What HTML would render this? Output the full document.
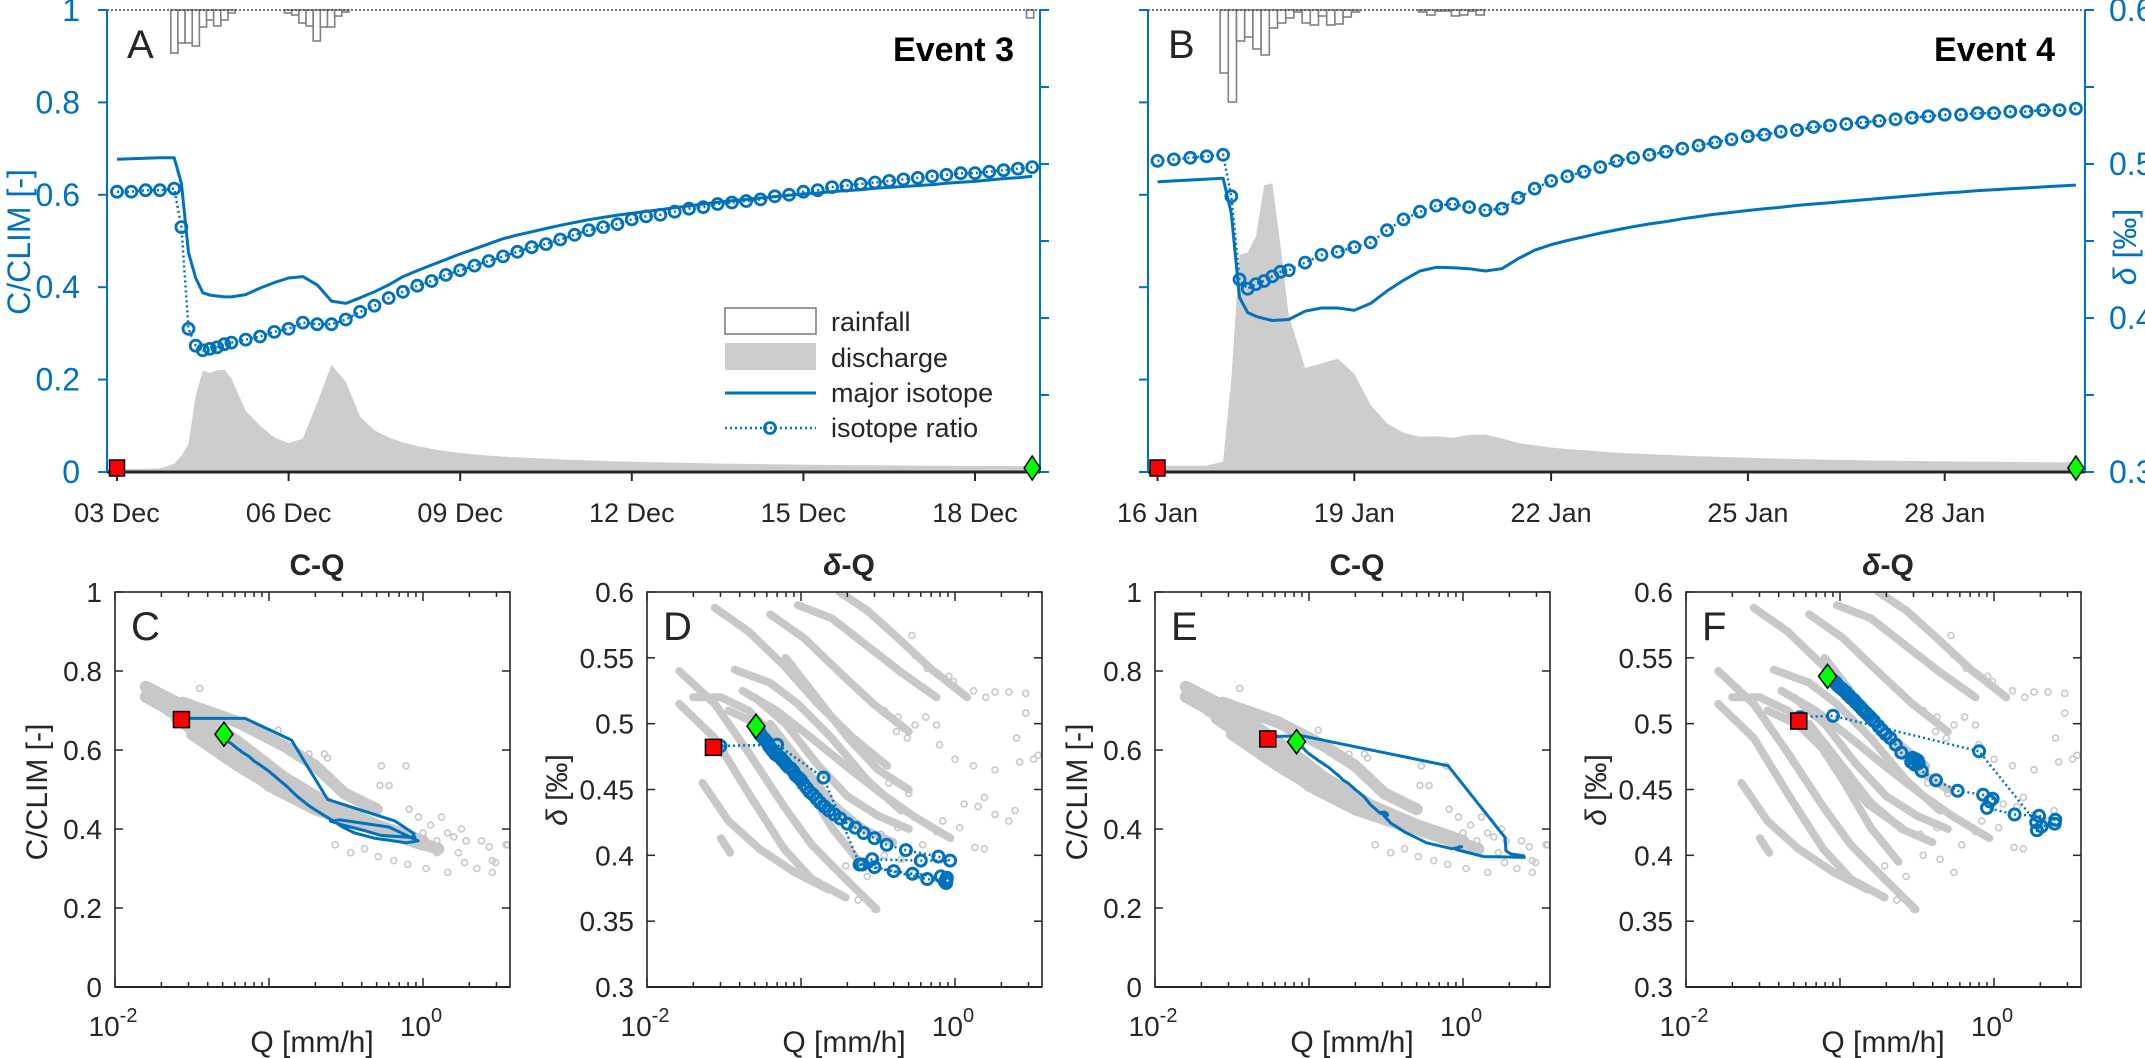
<!DOCTYPE html>
<html><head><meta charset="utf-8"><style>
html,body{margin:0;padding:0;background:#fff;}
svg{display:block;font-family:"Liberation Sans",Arial,sans-serif;}
</style></head><body>
<svg id="fig" xmlns="http://www.w3.org/2000/svg" width="2145" height="1058" viewBox="0 0 2145 1058">
<rect x="0" y="0" width="2145" height="1058" fill="#fff"/>
<g id="layer"></g>
</svg>
<script>
// ===== Event 3 (panel A, C, D) =====
const timesA = [0,0.25,0.5,0.75,1,1.125,1.25,1.375,1.5,1.625,1.75,1.875,2,2.25,2.5,2.75,3,3.25,3.5,3.75,4,4.25,4.5,4.75,5,5.25,5.5,5.75,6,6.25,6.5,6.75,7,7.25,7.5,7.75,8,8.25,8.5,8.75,9,9.25,9.5,9.75,10,10.25,10.5,10.75,11,11.25,11.5,11.75,12,12.25,12.5,12.75,13,13.25,13.5,13.75,14,14.25,14.5,14.75,15,15.25,15.5,15.75,16];
const dischargeA = [0.027,0.027,0.028,0.03,0.07,0.14,0.24,0.66,0.876,0.86,0.88,0.885,0.81,0.53,0.40,0.30,0.25,0.29,0.60,0.93,0.78,0.48,0.36,0.30,0.255,0.225,0.20,0.18,0.165,0.152,0.142,0.133,0.126,0.12,0.114,0.109,0.104,0.1,0.096,0.092,0.089,0.086,0.083,0.08,0.078,0.076,0.074,0.072,0.07,0.068,0.066,0.065,0.063,0.062,0.061,0.06,0.059,0.058,0.057,0.056,0.055,0.054,0.054,0.053,0.053,0.052,0.052,0.051,0.051];
const majorA = [0.677,0.678,0.679,0.68,0.68,0.625,0.475,0.42,0.388,0.383,0.381,0.379,0.379,0.384,0.398,0.41,0.42,0.423,0.405,0.37,0.365,0.377,0.39,0.405,0.423,0.436,0.448,0.46,0.472,0.483,0.494,0.505,0.513,0.52,0.527,0.534,0.54,0.546,0.551,0.556,0.56,0.564,0.568,0.572,0.576,0.58,0.584,0.587,0.59,0.593,0.596,0.599,0.602,0.604,0.607,0.609,0.611,0.614,0.616,0.618,0.62,0.622,0.625,0.627,0.629,0.632,0.635,0.637,0.64];
const ratioA = [0.482,0.482,0.483,0.483,0.484,0.459,0.393,0.382,0.379,0.38,0.381,0.383,0.384,0.386,0.388,0.391,0.393,0.397,0.396,0.396,0.399,0.404,0.408,0.413,0.417,0.421,0.424,0.428,0.431,0.434,0.437,0.44,0.443,0.446,0.448,0.451,0.454,0.457,0.459,0.461,0.464,0.466,0.467,0.469,0.471,0.472,0.474,0.475,0.476,0.477,0.479,0.48,0.482,0.483,0.485,0.486,0.487,0.488,0.489,0.49,0.491,0.492,0.493,0.494,0.494,0.495,0.496,0.497,0.498];
const rainTimesA = [0.94,1.065,1.19,1.315,1.44,1.565,1.69,1.815,1.94,2.93,3.055,3.18,3.305,3.43,3.555,3.68,3.805,3.93,15.9];
const rainA = [4.3,3.3,3.3,3.6,1.7,1.0,1.6,1.0,0.3,0.3,0.5,1.3,1.6,3.1,1.7,1.7,0.6,0.2,0.8];
const tickDaysA = [0,3,6,9,12,15];
const tickLabelsA = ['03 Dec','06 Dec','09 Dec','12 Dec','15 Dec','18 Dec'];

// ===== Event 4 (panel B, E, F) =====
const timesB = [0,0.25,0.5,0.75,1,1.125,1.25,1.375,1.5,1.625,1.75,1.875,2,2.25,2.5,2.75,3,3.25,3.5,3.75,4,4.25,4.5,4.75,5,5.25,5.5,5.75,6,6.25,6.5,6.75,7,7.25,7.5,7.75,8,8.25,8.5,8.75,9,9.25,9.5,9.75,10,10.25,10.5,10.75,11,11.25,11.5,11.75,12,12.25,12.5,12.75,13,13.25,13.5,13.75,14];
const dischargeB = [0.054,0.054,0.054,0.055,0.09,0.8,1.88,1.9,2.04,2.48,2.5,1.96,1.36,0.9,0.94,0.98,0.85,0.58,0.42,0.34,0.305,0.31,0.296,0.32,0.324,0.29,0.25,0.23,0.212,0.198,0.188,0.178,0.166,0.16,0.154,0.148,0.142,0.137,0.132,0.127,0.123,0.119,0.115,0.112,0.109,0.106,0.104,0.101,0.099,0.097,0.095,0.094,0.092,0.091,0.089,0.088,0.087,0.086,0.085,0.084,0.083];
const majorB = [0.628,0.63,0.632,0.634,0.636,0.56,0.378,0.345,0.337,0.332,0.328,0.329,0.33,0.348,0.355,0.355,0.35,0.365,0.392,0.415,0.435,0.443,0.442,0.44,0.435,0.44,0.462,0.48,0.492,0.501,0.509,0.517,0.524,0.531,0.537,0.542,0.548,0.553,0.558,0.562,0.566,0.57,0.573,0.577,0.58,0.583,0.586,0.589,0.592,0.595,0.598,0.601,0.604,0.606,0.609,0.611,0.613,0.615,0.617,0.619,0.621];
const ratioB = [0.502,0.503,0.504,0.505,0.506,0.479,0.425,0.419,0.422,0.424,0.427,0.43,0.431,0.436,0.441,0.443,0.446,0.449,0.457,0.464,0.469,0.473,0.474,0.472,0.47,0.471,0.478,0.484,0.489,0.492,0.495,0.498,0.502,0.504,0.506,0.508,0.51,0.512,0.514,0.516,0.518,0.519,0.521,0.522,0.524,0.525,0.526,0.527,0.528,0.529,0.53,0.531,0.532,0.532,0.533,0.533,0.534,0.534,0.535,0.535,0.536];
const rainTimesB = [0.955,1.08,1.205,1.33,1.455,1.58,1.705,1.83,1.955,2.08,2.205,2.33,2.455,2.58,2.705,2.83,2.955,3.98,4.105,4.23,4.355,4.48,4.605,4.73,4.855];
const rainB = [6.3,9.2,3.1,2.7,3.9,4.5,1.8,1.3,0.8,0.2,1.3,1.5,0.6,1.5,1.4,0.7,0.2,0.2,0.5,0.1,0.1,0.6,0.5,0.1,0.5];
const tickDaysB = [0,3,6,9,12];
const tickLabelsB = ['16 Jan','19 Jan','22 Jan','25 Jan','28 Jan'];

// ===== background events (all other events) for C-Q and delta-Q panels =====
const cqCurves = [
 [[-1.80,0.76],[-1.5,0.70],[-1.2,0.62],[-0.9,0.53],[-0.6,0.46],[-0.3,0.41],[0,0.37]],
 [[-1.80,0.735],[-1.5,0.67],[-1.2,0.58],[-0.9,0.50],[-0.6,0.44],[-0.3,0.40],[0,0.36]],
 [[-1.65,0.70],[-1.35,0.64],[-1.05,0.55],[-0.75,0.47],[-0.45,0.42],[-0.15,0.38],[0.1,0.35]],
 [[-1.5,0.64],[-1.2,0.56],[-0.9,0.49],[-0.6,0.44],[-0.3,0.40]],
 [[-1.56,0.72],[-1.2,0.67],[-0.9,0.61],[-0.7,0.56],[-0.51,0.49],[-0.3,0.45]],
 [[-1.3,0.60],[-1.0,0.51],[-0.7,0.45],[-0.4,0.41],[-0.1,0.38]],
 [[-1.7,0.72],[-1.4,0.66],[-1.1,0.58],[-0.8,0.50],[-0.5,0.43],[-0.2,0.39]],
 [[-1.6,0.68],[-1.3,0.60],[-1.0,0.52],[-0.7,0.46],[-0.4,0.42],[-0.1,0.38]],
 [[-1.4,0.62],[-1.1,0.54],[-0.8,0.48],[-0.5,0.43],[-0.2,0.39]]
];
const cqScatterQ = [-0.27,-0.11,-0.28,-0.22,-0.64,-0.62,-0.09,-0.03,0.12,0.05,0.16,0.25,0,0.09,0.2,0.28,0.38,0.43,0.54,0.45,0.47,0.35,0.45,0.16,0.02,-0.1,-0.19,-0.29,0.27,0.23,0.09,-0.38,-0.47,-0.57,-1.45,-0.94,-0.74,0.55];
const cqScatterC = [0.56,0.56,0.51,0.51,0.59,0.58,0.45,0.43,0.43,0.41,0.39,0.40,0.39,0.37,0.38,0.37,0.37,0.355,0.36,0.32,0.315,0.30,0.29,0.29,0.30,0.31,0.32,0.33,0.315,0.34,0.34,0.35,0.34,0.36,0.756,0.65,0.59,0.36];
const dqCurves = [
 [[-1.79,0.540],[-1.56,0.515],[-1.34,0.478],[-1.11,0.437],[-0.93,0.408],[-0.71,0.382],[-0.51,0.359]],
 [[-1.79,0.515],[-1.56,0.489],[-1.34,0.447],[-1.11,0.405],[-0.93,0.382],[-0.71,0.368]],
 [[-1.64,0.455],[-1.47,0.426],[-1.27,0.405],[-1.04,0.387],[-0.82,0.374]],
 [[-1.56,0.588],[-1.34,0.570],[-1.11,0.544],[-0.89,0.515],[-0.66,0.489],[-0.44,0.468]],
 [[-1.38,0.525],[-1.16,0.510],[-0.93,0.489],[-0.71,0.468],[-0.48,0.447],[-0.26,0.429],[-0.03,0.413]],
 [[-1.43,0.541],[-1.20,0.531],[-1.02,0.515],[-0.80,0.489],[-0.57,0.457],[-0.35,0.434]],
 [[-1.20,0.583],[-0.98,0.565],[-0.75,0.539],[-0.53,0.515],[-0.30,0.494]],
 [[-1.02,0.590],[-0.80,0.580],[-0.57,0.559],[-0.35,0.539],[-0.12,0.520]],
 [[-0.75,0.600],[-0.57,0.586],[-0.37,0.565],[-0.15,0.541],[0.08,0.520]],
 [[-1.70,0.520],[-1.52,0.520],[-1.34,0.510],[-1.16,0.489],[-0.98,0.457],[-0.80,0.421],[-0.62,0.395]],
 [[-1.47,0.510],[-1.27,0.499],[-1.04,0.473],[-0.82,0.439],[-0.60,0.421]],
 [[-1.52,0.413],[-1.46,0.402]],
 [[-1.30,0.52],[-1.1,0.50],[-0.9,0.47],[-0.7,0.445],[-0.5,0.43],[-0.3,0.42]],
 [[-1.2,0.50],[-1.0,0.47],[-0.8,0.44],[-0.6,0.42],[-0.4,0.41]],
 [[-1.1,0.55],[-0.9,0.52],[-0.7,0.49],[-0.5,0.465],[-0.3,0.45]]
];
const dqScatterQ = [-0.28,-0.26,-0.18,-0.1,-0.04,-0.01,0.12,0.2,0.26,0.35,0.46,0.46,0.4,0.42,0.51,0.54,0.26,0.12,0,-0.1,-0.12,-0.19,-0.26,-0.31,-0.38,-0.37,-0.46,0.06,0.15,0.19,0.26,0.35,0.39,0.13,0.19,0.03,-0.08,-0.12,-0.21,-0.26,-0.35,-0.46,-0.57,-0.63,-0.52,-0.71,-0.48,-0.37,-0.3,-0.43];
const dqScatterD = [0.567,0.552,0.542,0.537,0.536,0.532,0.525,0.52,0.524,0.524,0.523,0.508,0.489,0.471,0.473,0.476,0.465,0.468,0.473,0.484,0.499,0.505,0.499,0.489,0.494,0.505,0.51,0.439,0.437,0.444,0.431,0.426,0.434,0.406,0.405,0.421,0.426,0.418,0.408,0.387,0.397,0.4,0.384,0.366,0.359,0.392,0.416,0.421,0.447,0.455];

const BLUE = '#0072BD', DARK = '#262626', GRAY = '#c8c8c8';
const NS = 'http://www.w3.org/2000/svg';
const layer = document.getElementById('layer');
function mk(tag, attrs, parent) {
  const e = document.createElementNS(NS, tag);
  for (const k in attrs) e.setAttribute(k, attrs[k]);
  (parent || layer).appendChild(e);
  return e;
}
function txt(str, attrs, parent) {
  const e = mk('text', attrs, parent);
  e.textContent = str;
  return e;
}

// ===== top panels =====
const TOP = 10, BOT = 472, HPX = 462;
const yLeft = v => BOT - v * HPX;
const yDelta = d => BOT - (d - 0.3) / 0.3 * HPX;
const yQ = q => BOT - q / 4 * HPX;
const yRain = r => TOP + r * 10;

function topPanel(cfg) {
  const g = mk('g', {});
  
  
  const X = t => cfg.x0 + t * cfg.pxPerDay;
  let d = 'M' + X(cfg.times[0]) + ',' + BOT;
  cfg.q.forEach((q, i) => { d += ' L' + X(cfg.times[i]).toFixed(1) + ',' + yQ(q).toFixed(1); });
  d += ' L' + X(cfg.times[cfg.times.length - 1]) + ',' + BOT + ' Z';
  const area = mk('path', {d: d, fill: '#cdcdcd', stroke: 'none'}, g);
  
  
  cfg.rainT.forEach((t, i) => {
    const b = mk('rect', {x: X(t).toFixed(1), y: TOP, width: (0.125 * cfg.pxPerDay).toFixed(1), height: (yRain(cfg.rain[i]) - TOP).toFixed(1), fill: '#fff', stroke: '#808080', 'stroke-width': 1.6}, g);
    
    
  });
  const tl = mk('line', {x1: cfg.left, x2: cfg.right, y1: TOP, y2: TOP, stroke: '#444', 'stroke-width': 1.5, 'stroke-dasharray': '2 2'}, g);
  
  
  const pts = cfg.c.map((v, i) => X(cfg.times[i]).toFixed(1) + ',' + yLeft(v).toFixed(1)).join(' ');
  const ml = mk('polyline', {points: pts, fill: 'none', stroke: BLUE, 'stroke-width': 3, 'stroke-linejoin': 'round'}, g);
  
  
  const rp = cfg.r.map((v, i) => X(cfg.times[i]).toFixed(1) + ',' + yDelta(v).toFixed(1)).join(' ');
  const rl = mk('polyline', {points: rp, fill: 'none', stroke: BLUE, 'stroke-width': 2.5, 'stroke-dasharray': '2 3'}, g);
  
  
  cfg.r.forEach((v, i) => {
    const c = mk('circle', {cx: X(cfg.times[i]).toFixed(1), cy: yDelta(v).toFixed(1), r: 5.5, fill: 'none', stroke: BLUE, 'stroke-width': 2.8}, g);
    
    
  });
  const bx = mk('line', {x1: cfg.left, x2: cfg.right, y1: BOT, y2: BOT, stroke: DARK, 'stroke-width': 3}, g);
  
  
  const la = mk('line', {x1: cfg.left, x2: cfg.left, y1: TOP, y2: BOT, stroke: BLUE, 'stroke-width': 2}, g);
  
  
  const ra = mk('line', {x1: cfg.right, x2: cfg.right, y1: TOP, y2: BOT, stroke: BLUE, 'stroke-width': 2}, g);
  
  
  [0, 0.2, 0.4, 0.6, 0.8, 1].forEach(v => {
    const t = mk('line', {x1: cfg.left - 9, x2: cfg.left, y1: yLeft(v), y2: yLeft(v), stroke: BLUE, 'stroke-width': 2}, g);
    
    
    if (cfg.leftLabels) {
      const l = txt(String(v), {x: cfg.left - 27, y: yLeft(v) + 11, 'font-size': 32, fill: BLUE, 'text-anchor': 'end'}, g);
      
      
    }
  });
  [0.3, 0.35, 0.4, 0.45, 0.5, 0.55, 0.6].forEach(v => {
    const t = mk('line', {x1: cfg.right, x2: cfg.right + 9, y1: yDelta(v), y2: yDelta(v), stroke: BLUE, 'stroke-width': 2}, g);
    
    
    if (cfg.rightLabels && Math.abs(v * 10 - Math.round(v * 10)) < 1e-6) {
      const l = txt(v.toFixed(1), {x: cfg.right + 24, y: yDelta(v) + 11, 'font-size': 32, fill: BLUE}, g);
      
      
    }
  });
  cfg.tickDays.forEach((dd, i) => {
    const t = mk('line', {x1: X(dd), x2: X(dd), y1: BOT, y2: BOT + 9, stroke: DARK, 'stroke-width': 2}, g);
    
    
    const l = txt(cfg.tickLabels[i], {x: X(dd), y: BOT + 50, 'font-size': 27, fill: DARK, 'text-anchor': 'middle'}, g);
    
    
  });
  const n = cfg.times.length - 1;
  const sq = mk('rect', {x: X(cfg.times[0]) - 7.5, y: BOT - 12, width: 15, height: 16, fill: '#f00', stroke: '#000', 'stroke-width': 1.5}, g);
  
  
  const ex = X(cfg.times[n]), ey = BOT - 4;
  const dm = mk('polygon', {points: `${ex},${ey - 12} ${ex + 8},${ey} ${ex},${ey + 12} ${ex - 8},${ey}`, fill: '#0f0', stroke: '#000', 'stroke-width': 1.5}, g);
  
  
  const pl = txt(cfg.letter, {x: cfg.left + 20, y: 58, 'font-size': 40, fill: DARK}, g);
  
  
  const ev = txt(cfg.event, {x: cfg.eventX, y: 61, 'font-size': 34, 'font-weight': 'bold', fill: '#000', 'text-anchor': 'end'}, g);
  
  
}

topPanel({name: 'panel-a', letter: 'A', event: 'Event 3', eventX: 1014, left: 107, right: 1040, x0: 117, pxPerDay: 57.2,
  times: timesA, q: dischargeA, c: majorA, r: ratioA, rainT: rainTimesA, rain: rainA, tickDays: tickDaysA, tickLabels: tickLabelsA, leftLabels: true, rightLabels: false});
topPanel({name: 'panel-b', letter: 'B', event: 'Event 4', eventX: 2055, left: 1148, right: 2085, x0: 1157.5, pxPerDay: 65.6,
  times: timesB, q: dischargeB, c: majorB, r: ratioB, rainT: rainTimesB, rain: rainB, tickDays: tickDaysB, tickLabels: tickLabelsB, leftLabels: false, rightLabels: true});

const yl = txt('C/CLIM [-]', {x: 0, y: 0, 'font-size': 32, fill: BLUE, 'text-anchor': 'middle', transform: 'translate(30,242) rotate(-90)'});


const yr = mk('text', {x: 0, y: 0, 'font-size': 32, fill: BLUE, 'text-anchor': 'middle', transform: 'translate(2136,247) rotate(-90)'});


yr.innerHTML = '<tspan font-style="italic">δ</tspan> [‰]';

const lg = mk('g', {});


const lr = mk('rect', {x: 725, y: 308, width: 91, height: 26, fill: '#fff', stroke: '#808080', 'stroke-width': 1.6}, lg);


const ld = mk('rect', {x: 725, y: 343, width: 91, height: 27, fill: '#cdcdcd'}, lg);


const lm = mk('line', {x1: 725, x2: 816, y1: 393, y2: 393, stroke: BLUE, 'stroke-width': 3}, lg);


const li = mk('line', {x1: 725, x2: 816, y1: 428, y2: 428, stroke: BLUE, 'stroke-width': 2.5, 'stroke-dasharray': '2 3'}, lg);


const lc = mk('circle', {cx: 770, cy: 428, r: 5.5, fill: 'none', stroke: BLUE, 'stroke-width': 2.8}, lg);


[['rainfall', 331], ['discharge', 367], ['major isotope', 402], ['isotope ratio', 437]].forEach(it => {
  const t = txt(it[0], {x: 831, y: it[1], 'font-size': 27, fill: DARK}, lg);
  
  
});

// ===== bottom panels =====
const PT = 592, PB = 987, PW = 395, DEC = 154;
function bottomPanel(cfg) {
  const g = mk('g', {});
  
  
  const L = cfg.left, R = L + PW;
  const X = lq => L + DEC * (lq + 2);
  const Y = cfg.isDelta ? (v => PB - (v - 0.3) / 0.3 * PW) : (v => PB - v * PW);
  const clip = mk('clipPath', {id: 'clip-' + cfg.name}, g);
  mk('rect', {x: L, y: PT, width: PW, height: PB - PT}, clip);
  const inner = mk('g', {'clip-path': 'url(#clip-' + cfg.name + ')'}, g);
  
  
  cfg.bgCurves.forEach(cv => {
    const p = mk('polyline', {points: cv.map(pt => X(pt[0]).toFixed(1) + ',' + Y(pt[1]).toFixed(1)).join(' '), fill: 'none', stroke: GRAY, 'stroke-width': cfg.isDelta ? 8 : 12, 'stroke-linecap': 'round', 'stroke-linejoin': 'round'}, inner);
    
    
  });
  cfg.bgQ.forEach((lq, i) => {
    const c = mk('circle', {cx: X(lq).toFixed(1), cy: Y(cfg.bgV[i]).toFixed(1), r: 3, fill: 'none', stroke: GRAY, 'stroke-width': 1.6}, inner);
    
    
  });
  const pts = cfg.vals.map((v, i) => X(Math.log10(cfg.q[i])).toFixed(1) + ',' + Y(v).toFixed(1)).join(' ');
  if (cfg.isDelta) {
    const l = mk('polyline', {points: pts, fill: 'none', stroke: BLUE, 'stroke-width': 2.5, 'stroke-dasharray': '2 3'}, inner);
    
    
    cfg.vals.forEach((v, i) => {
      const c = mk('circle', {cx: X(Math.log10(cfg.q[i])).toFixed(1), cy: Y(v).toFixed(1), r: 5.5, fill: 'none', stroke: BLUE, 'stroke-width': 3}, inner);
      
      
    });
  } else {
    const l = mk('polyline', {points: pts, fill: 'none', stroke: BLUE, 'stroke-width': 3, 'stroke-linejoin': 'round'}, inner);
    
    
  }
  const n = cfg.vals.length - 1;
  const sx = X(Math.log10(cfg.q[0])), sy = Y(cfg.vals[0]);
  const sq = mk('rect', {x: sx - 8, y: sy - 8, width: 16, height: 16, fill: '#f00', stroke: '#000', 'stroke-width': 1.5}, g);
  
  
  const ex = X(Math.log10(cfg.q[n])), ey = Y(cfg.vals[n]);
  const dm = mk('polygon', {points: `${ex},${ey - 12} ${ex + 9},${ey} ${ex},${ey + 12} ${ex - 9},${ey}`, fill: '#0f0', stroke: '#000', 'stroke-width': 1.5}, g);
  
  
  const fr = mk('rect', {x: L, y: PT, width: PW, height: PB - PT, fill: 'none', stroke: DARK, 'stroke-width': 1.6}, g);
  
  
  const bl = mk('line', {x1: L, x2: R, y1: PB, y2: PB, stroke: DARK, 'stroke-width': 2}, g);
  
  
  for (let e = -2; e <= 0; e++) {
    for (let k = 1; k <= 9; k++) {
      const lq = e + Math.log10(k);
      if (X(lq) > R + 0.5) continue;
      const len = k === 1 ? 9 : 5;
      [[PB, -len], [PT, len]].forEach(p => {
        const t = mk('line', {x1: X(lq), x2: X(lq), y1: p[0], y2: p[0] + p[1], stroke: DARK, 'stroke-width': 1.5}, g);
        
        
      });
    }
  }
  [-2, 0].forEach(e => {
    const t = mk('text', {x: X(e) - 2, y: 1036, 'font-size': 28, fill: DARK, 'text-anchor': 'middle'}, g);
    
    
    t.innerHTML = '10<tspan font-size="20" dy="-14">' + e + '</tspan>';
  });
  const xl = txt('Q [mm/h]', {x: L + 197, y: 1052, 'font-size': 30, fill: DARK, 'text-anchor': 'middle'}, g);
  
  
  cfg.yTicks.forEach((v, i) => {
    [[L, 8], [R, -8]].forEach(p => {
      const t = mk('line', {x1: p[0], x2: p[0] + p[1], y1: Y(v), y2: Y(v), stroke: DARK, 'stroke-width': 1.5}, g);
      
      
    });
    const l = txt(cfg.yTickLabels[i], {x: L - 13, y: Y(v) + 10, 'font-size': 28, fill: DARK, 'text-anchor': 'end'}, g);
    
    
  });
  const yt = mk('text', {x: 0, y: 0, 'font-size': 30, fill: DARK, 'text-anchor': 'middle', transform: `translate(${L - (cfg.isDelta ? 80 : 68)},${cfg.isDelta ? 790 : 792}) rotate(-90)`}, g);
  
  
  yt.innerHTML = cfg.isDelta ? '<tspan font-style="italic">δ</tspan> [‰]' : 'C/CLIM [-]';
  const ti = mk('text', {x: L + 202, y: 575, 'font-size': 30, 'font-weight': 'bold', fill: DARK, 'text-anchor': 'middle'}, g);
  
  
  ti.innerHTML = cfg.isDelta ? '<tspan font-style="italic">δ</tspan>-Q' : 'C-Q';
  const pl = txt(cfg.letter, {x: L + 16, y: 640, 'font-size': 40, fill: DARK}, g);
  
  
}
const cTicks = [0, 0.2, 0.4, 0.6, 0.8, 1];
const cTickLabels = ['0', '0.2', '0.4', '0.6', '0.8', '1'];
const dTicks = [0.3, 0.35, 0.4, 0.45, 0.5, 0.55, 0.6];
const dTickLabels = ['0.3', '0.35', '0.4', '0.45', '0.5', '0.55', '0.6'];
bottomPanel({name: 'panel-c', letter: 'C', left: 115, isDelta: false, q: dischargeA, vals: majorA, bgCurves: cqCurves, bgQ: cqScatterQ, bgV: cqScatterC, yTicks: cTicks, yTickLabels: cTickLabels});
bottomPanel({name: 'panel-d', letter: 'D', left: 647, isDelta: true, q: dischargeA, vals: ratioA, bgCurves: dqCurves, bgQ: dqScatterQ, bgV: dqScatterD, yTicks: dTicks, yTickLabels: dTickLabels});
bottomPanel({name: 'panel-e', letter: 'E', left: 1155, isDelta: false, q: dischargeB, vals: majorB, bgCurves: cqCurves, bgQ: cqScatterQ, bgV: cqScatterC, yTicks: cTicks, yTickLabels: cTickLabels});
bottomPanel({name: 'panel-f', letter: 'F', left: 1686, isDelta: true, q: dischargeB, vals: ratioB, bgCurves: dqCurves, bgQ: dqScatterQ, bgV: dqScatterD, yTicks: dTicks, yTickLabels: dTickLabels});
</script>
</body></html>
